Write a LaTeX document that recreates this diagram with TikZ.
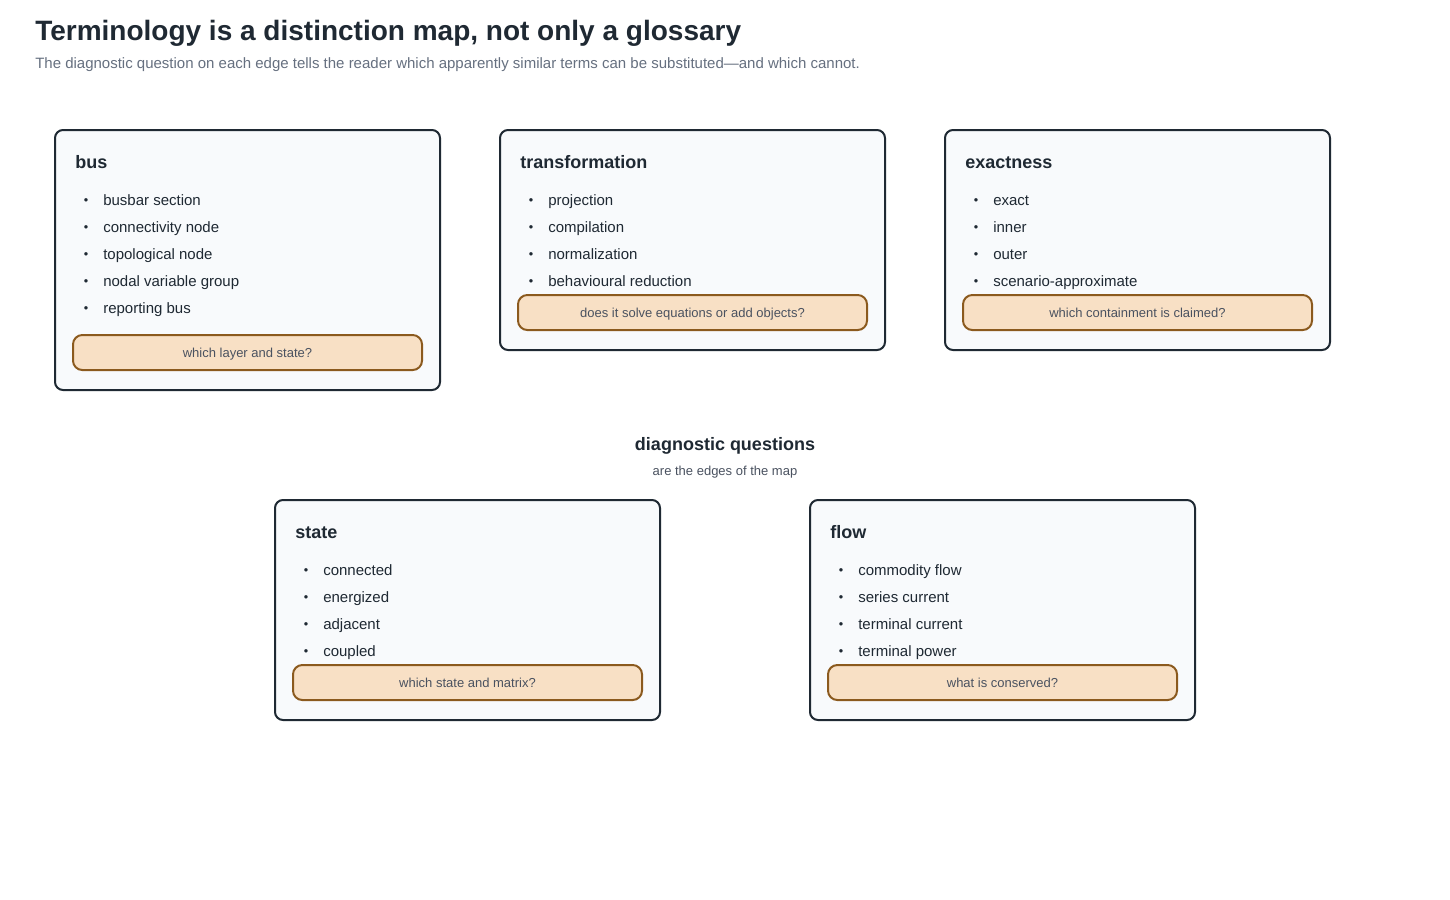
\documentclass[tikz,border=0pt]{standalone}
\usepackage{fontspec}
\setmainfont{Liberation Sans}
\usepackage{xcolor}
\usetikzlibrary{positioning}
\definecolor{ink}{HTML}{1F2933}
\definecolor{muted}{HTML}{667080}
\definecolor{cardfill}{HTML}{F8FAFC}
\definecolor{qfill}{HTML}{F8E0C5}
\definecolor{qdraw}{HTML}{8B5A1E}
\definecolor{qtext}{HTML}{4A5260}
\tikzset{
  card/.style={draw=ink, fill=cardfill, line width=1.5pt, rounded corners=6pt, anchor=north west, minimum width=288.75pt, inner sep=0pt, outer sep=0pt},
  question/.style={draw=qdraw, fill=qfill, line width=1.5pt, rounded corners=7pt, minimum width=261.75pt, minimum height=26.25pt, inner sep=0pt, text height=9pt, text depth=1.5pt, font=\fontsize{9.75}{12}\selectfont, text=qtext},
  cardtitle/.style={anchor=base west, inner sep=0pt, font=\fontsize{13.5}{16}\selectfont\bfseries, text=ink},
  item/.style={anchor=base west, inner sep=0pt, font=\fontsize{11.25}{13}\selectfont, text=ink},
  dot/.style={anchor=base, inner sep=0pt, font=\fontsize{9.5}{11}\selectfont, text=ink}
}
\begin{document}
\begin{tikzpicture}[x=0.75pt, y=-0.75pt]
  \useasboundingbox[fill=white] (0,0) rectangle (1450,900);

  % heading
  \node[anchor=base west, inner sep=0pt, font=\fontsize{21}{24}\selectfont\bfseries, text=ink] (title) at (35,40) {Terminology is a distinction map, not only a glossary};
  \node[anchor=base west, inner sep=0pt, font=\fontsize{11.25}{13}\selectfont, text=muted] (subtitle) at (35,68) {The diagnostic question on each edge tells the reader which apparently similar terms can be substituted---and which cannot.};

  % top row
  \node[card, minimum height=195pt] (bus) at (55,130) {};
  \node[cardtitle] (bus-title) at (75,168) {bus};
  \foreach \t [count=\i] in {busbar section, connectivity node, topological node, nodal variable group, reporting bus} {
    \node[dot] (bus-d\i) at (86,177+27*\i) {\textbullet};
    \node[item] (bus-i\i) at (103,178+27*\i) {\t};
  }
  \node[question] (bus-q) at (247.5,352.5) {which layer and state?};

  \node[card, minimum height=165pt] (trans) at (500,130) {};
  \node[cardtitle] (trans-title) at (520,168) {transformation};
  \foreach \t [count=\i] in {projection, compilation, normalization, behavioural reduction} {
    \node[dot] (trans-d\i) at (531,177+27*\i) {\textbullet};
    \node[item] (trans-i\i) at (548,178+27*\i) {\t};
  }
  \node[question] (trans-q) at (692.5,312.5) {does it solve equations or add objects?};

  \node[card, minimum height=165pt] (exact) at (945,130) {};
  \node[cardtitle] (exact-title) at (965,168) {exactness};
  \foreach \t [count=\i] in {exact, inner, outer, scenario-approximate} {
    \node[dot] (exact-d\i) at (976,177+27*\i) {\textbullet};
    \node[item] (exact-i\i) at (993,178+27*\i) {\t};
  }
  \node[question] (exact-q) at (1137.5,312.5) {which containment is claimed?};

  % middle caption
  \node[anchor=base, inner sep=0pt, font=\fontsize{13.5}{16}\selectfont\bfseries, text=ink] (edges) at (725,450) {diagnostic questions};
  \node[anchor=base, inner sep=0pt, font=\fontsize{9.75}{12}\selectfont, text=qtext] (edges-sub) at (725,475) {are the edges of the map};

  % bottom row
  \node[card, minimum height=165pt] (state) at (275,500) {};
  \node[cardtitle] (state-title) at (295,538) {state};
  \foreach \t [count=\i] in {connected, energized, adjacent, coupled} {
    \node[dot] (state-d\i) at (306,547+27*\i) {\textbullet};
    \node[item] (state-i\i) at (323,548+27*\i) {\t};
  }
  \node[question] (state-q) at (467.5,682.5) {which state and matrix?};

  \node[card, minimum height=165pt] (flow) at (810,500) {};
  \node[cardtitle] (flow-title) at (830,538) {flow};
  \foreach \t [count=\i] in {commodity flow, series current, terminal current, terminal power} {
    \node[dot] (flow-d\i) at (841,547+27*\i) {\textbullet};
    \node[item] (flow-i\i) at (858,548+27*\i) {\t};
  }
  \node[question] (flow-q) at (1002.5,682.5) {what is conserved?};
\end{tikzpicture}
\end{document}
